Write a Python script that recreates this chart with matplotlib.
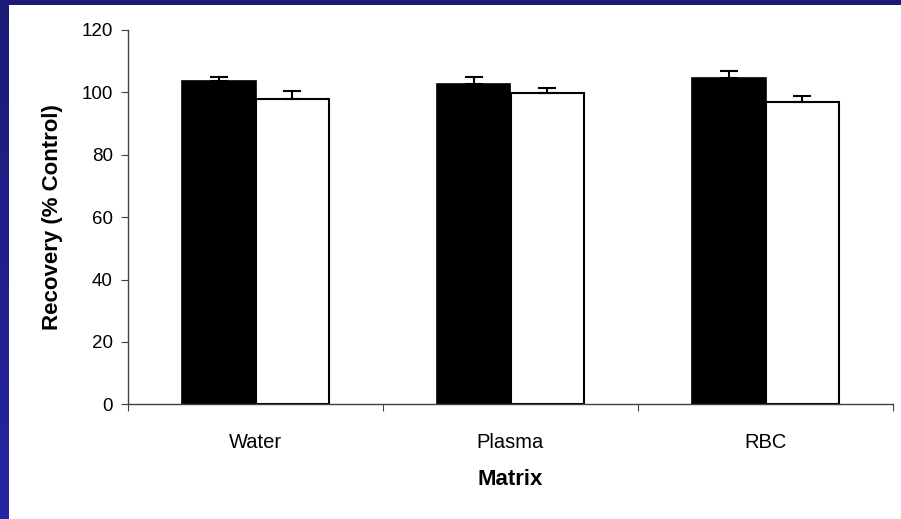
import matplotlib
matplotlib.use("Agg")
import matplotlib.pyplot as plt
import numpy as np
from matplotlib.colors import LinearSegmentedColormap

categories = ["Water", "Plasma", "RBC"]
series_a = [103.8, 102.7, 104.5]
series_a_err = [1.1, 2.1, 2.5]
series_b = [98.0, 99.9, 97.0]
series_b_err = [2.3, 1.6, 1.7]
yticks = [0, 20, 40, 60, 80, 100, 120]

plt.rcParams['font.family'] = ['Liberation Sans', 'DejaVu Sans']

W, H = 901, 519
fig = plt.figure(figsize=(W / 100, H / 100), dpi=100)
fig.patch.set_facecolor("white")

# blue frame (top band and left band with gradient)
bg = fig.add_axes([0, 0, 1, 1], zorder=-10)
bg.set_axis_off()
bg.set_xlim(0, W)
bg.set_ylim(H, 0)
grad = np.linspace(0, 1, 256).reshape(-1, 1)
cmap = LinearSegmentedColormap.from_list("b", ["#1b1b76", "#2525a2"])
bg.imshow(grad, cmap=cmap, aspect="auto", extent=[0, 8.5, H, 0])
bg.add_patch(plt.Rectangle((0, 0), W, 5, color="#1b1b76", lw=0))

ax = fig.add_axes([128 / W, 1 - 404.3 / H, (893 - 128) / W, (404.3 - 30) / H])
x = np.arange(len(categories))
bw = 0.29
ax.bar(x - bw / 2, series_a, bw, color="black", edgecolor="black", lw=1.2,
       yerr=[np.zeros(3), series_a_err], error_kw=dict(ecolor="black", elinewidth=1.5, capsize=6.5, capthick=1.5))
ax.bar(x + bw / 2, series_b, bw, color="white", edgecolor="black", lw=1.5,
       yerr=[np.zeros(3), series_b_err], error_kw=dict(ecolor="black", elinewidth=1.5, capsize=6.5, capthick=1.5))

ax.set_xlim(-0.5, 2.5)
ax.set_ylim(0, 120)
ax.set_yticks(yticks)
ax.set_xticks([-0.5, 0.5, 1.5, 2.5], minor=False)
ax.set_xticklabels([])
ax.set_xticks(x, minor=True)
ax.set_xticklabels(categories, minor=True, fontsize=14.5)
ax.tick_params(axis="x", which="minor", length=0, pad=21)
ax.tick_params(axis="x", which="major", direction="out", length=5, color="#404040")
ax.tick_params(axis="y", direction="out", length=5, color="#404040", labelsize=13.5, pad=6)
for s in ["top", "right"]:
    ax.spines[s].set_visible(False)
for s in ["left", "bottom"]:
    ax.spines[s].set_color("#404040")
    ax.spines[s].set_linewidth(1.0)
ax.set_xlabel("Matrix", fontsize=16, fontweight="bold", labelpad=12)
ax.set_ylabel("Recovery (% Control)", fontsize=16, fontweight="bold", labelpad=13)

fig.savefig("out.png", dpi=100)
